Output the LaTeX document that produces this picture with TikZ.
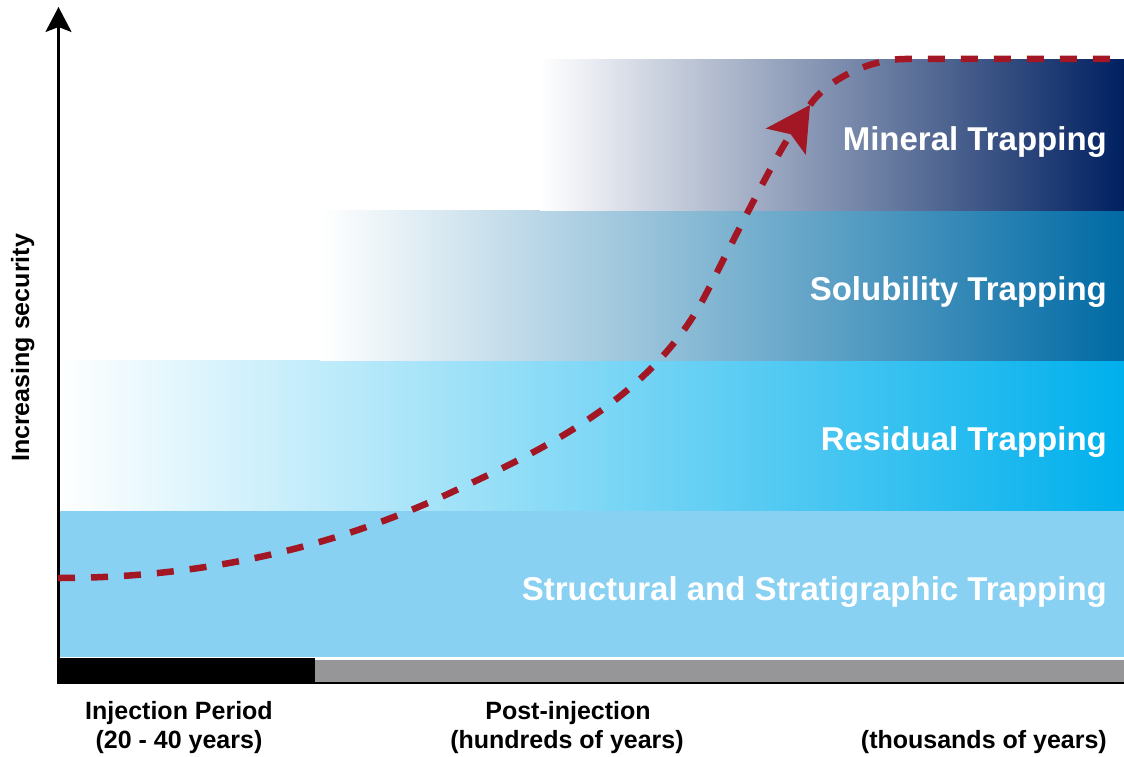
\documentclass[tikz,border=0pt]{standalone}
\usepackage{fontspec}
\setmainfont{Liberation Sans}
\usetikzlibrary{arrows.meta}
\definecolor{structc}{RGB}{137,209,242}
\definecolor{residc}{RGB}{0,176,236}
\definecolor{solubc}{RGB}{0,106,164}
\definecolor{solubm}{RGB}{105,158,200}
\definecolor{minerc}{RGB}{0,32,96}
\definecolor{minerm}{RGB}{110,122,165}
\definecolor{curvec}{RGB}{163,22,36}
\definecolor{barg}{RGB}{150,150,153}
\begin{document}
\begin{tikzpicture}[x=1pt,y=-1pt,
  bandlabel/.style={anchor=base east, inner sep=0pt, text=white, font=\bfseries\fontsize{33}{33}\selectfont},
  timelabel/.style={anchor=base, inner sep=0pt, font=\bfseries\fontsize{25}{26}\selectfont},
  trend/.style={draw=curvec, line width=6.5pt, dash pattern=on 17pt off 16pt},
  axisline/.style={line width=2.5pt, draw=black}
]
\useasboundingbox (0,0) rectangle (1124,757);
% bands
\fill[structc] (58,510) rectangle (1124,657);
\shade[left color=white, right color=residc] (58,360) rectangle (1124,510);
\shade[left color=white, middle color=solubm, right color=solubc] (320,210) rectangle (1124,360);
\shade[left color=white, middle color=minerm, right color=minerc] (540,60) rectangle (1124,210);
% band labels
\node[bandlabel] (mineral) at (1107,150) {Mineral Trapping};
\node[bandlabel] (solub) at (1107,300) {Solubility Trapping};
\node[bandlabel] (resid) at (1107,450) {Residual Trapping};
\node[bandlabel] (struct) at (1107,600) {Structural and Stratigraphic Trapping};
% time bar
\fill[black] (57,658) rectangle (315,684);
\fill[barg] (315,660) rectangle (1124,681.5);
% axes
\coordinate (origin) at (58.5,683);
\coordinate (ytop) at (58.5,7);
\coordinate (xend) at (1124,683);
\draw[axisline] (57,683) -- (xend);
\draw[axisline, -{Stealth[length=25pt,width=26pt,inset=5pt]}] (origin) -- (ytop);
% trend curve
\coordinate (c0) at (58,578);
\coordinate (c1) at (450,493);
\coordinate (c2) at (707,292);
\coordinate (tip) at (810,105);
\coordinate (c4) at (905,59);
\coordinate (cend) at (1124,59);
\draw[trend, -{Stealth[length=44pt,width=48pt,inset=9pt,line width=0pt]}] (c0) .. controls (230,578) and (360,535) .. (c1) .. controls (540,451) and (653,399) .. (c2) .. controls (752,203) and (777,155) .. (tip);
\draw[trend] (tip) .. controls (826.5,80) and (870,59) .. (c4) -- (cend);
% labels
\node[rotate=90, anchor=base, inner sep=0pt, font=\bfseries\fontsize{25}{25}\selectfont] (ylabel) at (29,348) {Increasing security};
\node[timelabel] (inj1) at (179,719) {Injection Period};
\node[timelabel] (inj2) at (179,748) {(20 - 40 years)};
\node[timelabel] (post1) at (568,719) {Post-injection};
\node[timelabel] (post2) at (567,748) {(hundreds of years)};
\node[timelabel, anchor=base east] (thou) at (1107,748) {(thousands of years)};
\end{tikzpicture}
\end{document}
